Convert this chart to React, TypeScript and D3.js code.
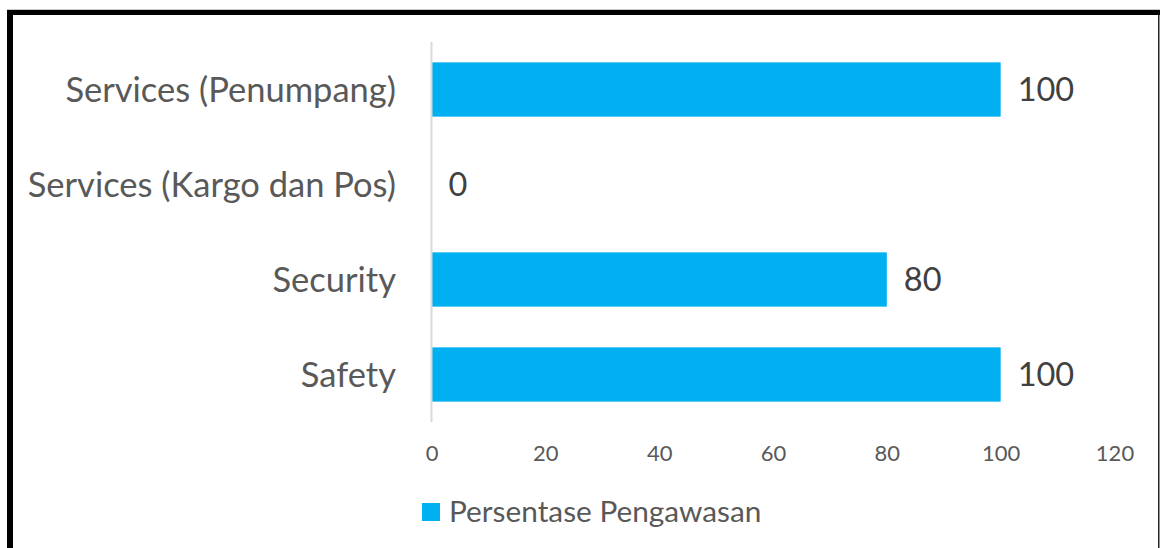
import React, { useEffect, useRef } from "react";
import * as d3 from "d3";

const categories = ["Services (Penumpang)", "Services (Kargo dan Pos)", "Security", "Safety"];
const values = [100, 0, 80, 100];
const xTicks = [0, 20, 40, 60, 80, 100, 120];
const seriesName = "Persentase Pengawasan";

const W = 1160, H = 548;
const font = "Lato, 'Open Sans', sans-serif";

function App() {
    const ref = useRef<SVGSVGElement>(null);

    useEffect(() => {
        const svg = d3.select(ref.current);
        svg.selectAll("*").remove();

        // frame (thick black top/left, thin right)
        svg.append("rect").attr("x", 0).attr("y", 0).attr("width", W).attr("height", H).attr("fill", "#fff");
        svg.append("line").attr("x1", 7).attr("x2", W).attr("y1", 9.5).attr("y2", 9.5)
            .attr("stroke", "#c8c8c8").attr("stroke-width", 1);
        svg.append("rect").attr("x", 7).attr("y", 10).attr("width", W - 7).attr("height", 5).attr("fill", "#000");
        svg.append("rect").attr("x", 7).attr("y", 10).attr("width", 6).attr("height", H - 10).attr("fill", "#000");
        svg.append("rect").attr("x", 1158).attr("y", 15).attr("width", 1.5).attr("height", H - 15).attr("fill", "#262626");

        const x = d3.scaleLinear().domain([0, 120]).range([431.5, 1114.5]);
        const y = d3.scaleBand<string>()
            .domain(categories)
            .range([42, 422])
            .paddingInner(0.4286)
            .paddingOuter(0.2143);

        // bars
        svg.append("g").selectAll("rect")
            .data(values)
            .enter().append("rect")
            .attr("x", x(0))
            .attr("y", (d, i) => y(categories[i])!)
            .attr("width", d => x(d) - x(0))
            .attr("height", y.bandwidth())
            .attr("fill", "#00B0F0");

        // vertical axis line
        svg.append("line")
            .attr("x1", x(0)).attr("x2", x(0))
            .attr("y1", 42).attr("y2", 422)
            .attr("stroke", "#d9d9d9").attr("stroke-width", 2);

        // category labels
        svg.append("g").selectAll("text")
            .data(categories)
            .enter().append("text")
            .attr("x", 396)
            .attr("y", d => y(d)! + y.bandwidth() / 2)
            .attr("dy", "0.35em")
            .attr("text-anchor", "end")
            .attr("font-family", font)
            .attr("font-size", 34.5)
            .attr("fill", "#595959")
            .text(d => d);

        // data labels
        svg.append("g").selectAll("text")
            .data(values)
            .enter().append("text")
            .attr("x", d => x(d) + 17)
            .attr("y", (d, i) => y(categories[i])! + y.bandwidth() / 2)
            .attr("dy", "0.36em")
            .attr("font-family", font)
            .attr("font-size", 32.5)
            .attr("fill", "#404040")
            .text(d => d);

        // x axis tick labels
        const axis = svg.append("g")
            .attr("transform", "translate(0,445)")
            .call(d3.axisBottom(x).tickValues(xTicks).tickSize(0).tickPadding(0));
        axis.select(".domain").remove();
        axis.selectAll("text")
            .attr("font-family", font)
            .attr("font-size", 22)
            .attr("fill", "#595959");

        // legend
        svg.append("rect").attr("x", 422).attr("y", 503).attr("width", 18).attr("height", 18).attr("fill", "#00B0F0");
        svg.append("text")
            .attr("x", 449).attr("y", 512)
            .attr("dy", "0.35em")
            .attr("font-family", font)
            .attr("font-size", 29.8)
            .attr("fill", "#595959")
            .text(seriesName);
    }, []);

    return (
        <svg ref={ref} width={W} height={H}
            style={{ position: "absolute", left: 0, top: 0, display: "block" }} />
    );
}

export default App;
